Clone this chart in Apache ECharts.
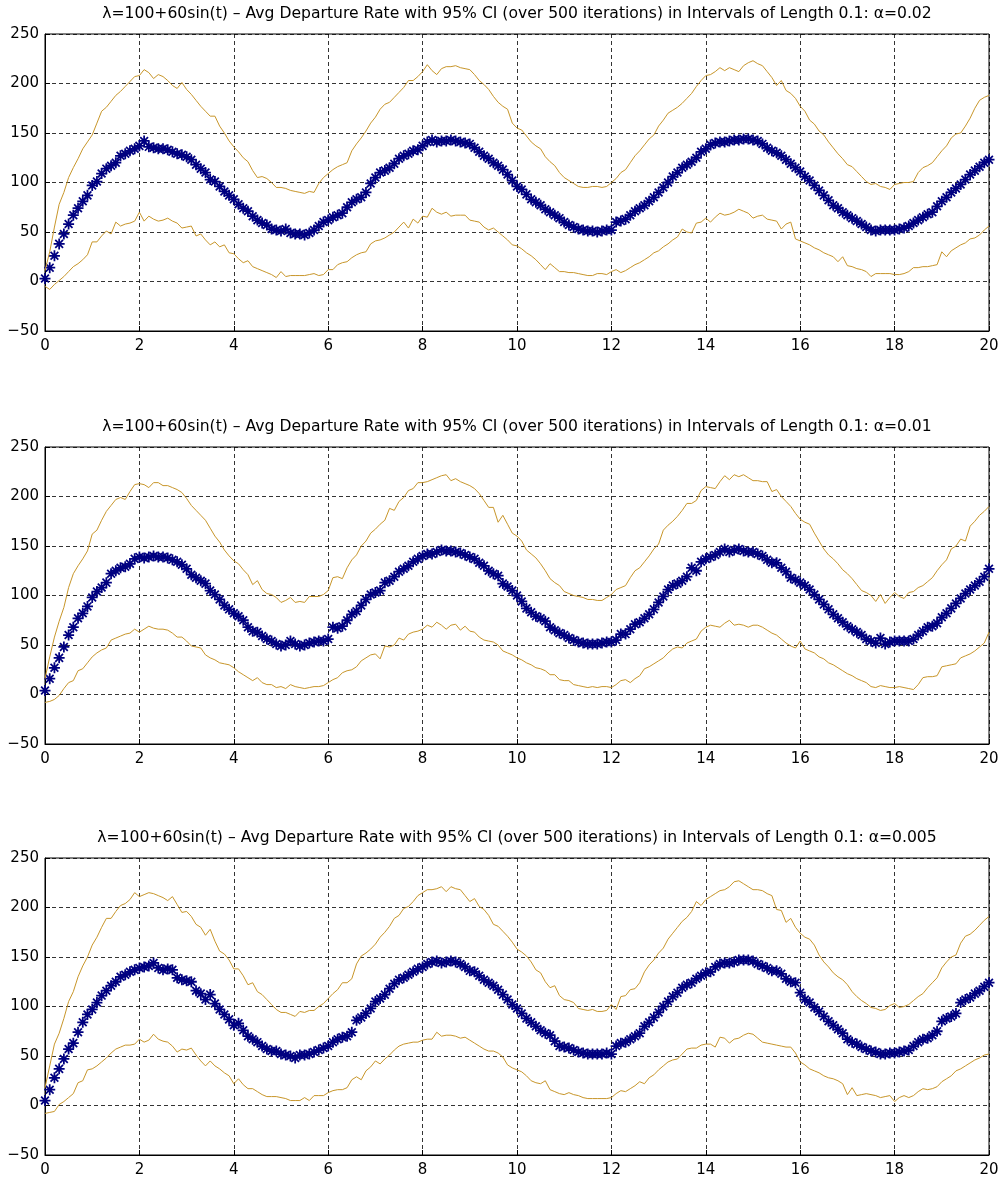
<!DOCTYPE html>
<html>
<head>
<meta charset="utf-8">
<title>Avg Departure Rate with 95% CI</title>
<script src="https://cdn.jsdelivr.net/npm/echarts@6/dist/echarts.min.js"></script>
<style>
html, body { margin: 0; padding: 0; background: #fff; }
#chart { width: 1003px; height: 1180px; }
</style>
</head>
<body>
<div id="chart"></div>
<script>
// samples every 0.1 time units, t = 0 .. 20
var T_STEP = 0.1;
var alphas = ['0.02', '0.01', '0.005'];
var xTicks = { min: 0, max: 20, step: 2 };
var yTicks = { min: -50, max: 250, step: 50 };

// alpha = 0.02
var mean1 = [3,14,26,38,48,58,67,74,81,87, 97,101,109,114,117,120,127,129,132,134, 137,142,136,135,134,134,133,131,129,128,
  126,123,118,114,110,103,101,96,91,87, 83,78,74,71,66,62,59,57,53,52, 51,53,49,48,48,47,49,52,56,60,
  62,65,67,69,75,80,83,85,90,99, 105,110,112,115,119,124,127,129,132,133, 137,141,143,141,142,142,143,142,141,140,
  139,135,131,127,124,120,117,113,108,102, 96,93,88,83,80,77,73,70,67,64, 60,57,55,53,52,51,51,50,51,52,
  52,60,61,63,67,71,74,77,81,85, 90,95,100,106,110,115,118,121,125,131, 134,138,140,141,141,142,143,143,144,144,
  143,142,139,135,132,130,127,123,119,115, 111,106,102,97,92,87,82,77,74,70, 67,64,61,58,55,52,51,52,52,52,
  52,53,54,56,59,62,65,68,70,76, 81,85,90,94,98,103,108,112,116,120, 123];
var upper1 = [11,30,55,78,90,105,115,124,134,141, 148,160,172,176,182,188,192,197,202,207, 208,214,211,205,209,207,203,198,195,201,
  194,189,183,177,172,167,167,157,150,142, 136,131,125,121,112,105,106,104,100,95, 95,94,92,91,90,89,91,90,99,105,
  109,113,116,118,120,132,139,145,152,160, 166,174,179,181,186,191,196,203,203,207, 212,219,213,209,215,217,217,218,216,215,
  214,209,203,199,194,187,181,177,174,160, 155,153,147,141,137,134,126,121,117,110, 105,102,99,96,95,95,96,96,95,96,
  100,104,110,113,120,127,132,138,144,148, 157,163,170,173,176,180,185,190,197,203, 208,209,212,216,213,216,214,212,218,221,
  223,220,218,212,206,198,203,193,190,185, 177,172,163,159,152,148,141,135,129,124, 118,116,111,106,101,98,99,96,95,93,
  98,99,100,100,101,110,115,117,120,126, 132,137,145,149,150,157,165,175,183,186, 188];
var lower1 = [-5,-8,-3,1,5,10,15,18,22,27, 40,40,46,51,48,60,56,58,59,61, 70,61,66,63,61,62,64,61,59,54,
  55,56,46,48,42,37,40,35,37,29, 28,23,19,21,15,13,11,9,7,4, 10,5,6,6,6,6,7,8,6,7,
  12,12,17,19,20,24,27,29,30,38, 41,42,44,47,50,55,60,54,63,59, 66,65,74,70,68,70,66,67,67,67,
  62,61,60,55,52,54,50,46,42,37, 36,33,29,26,22,17,12,18,14,10, 10,9,9,8,7,6,6,8,8,7,
  10,12,9,11,14,17,19,22,25,29, 31,35,38,42,45,53,50,49,59,60, 64,60,65,69,67,68,70,73,71,69,
  64,66,67,63,62,61,53,58,60,43, 41,39,37,34,32,29,27,25,20,25, 16,15,13,12,10,5,8,8,8,8,
  7,7,8,10,14,14,15,15,16,17, 30,25,31,34,37,39,43,44,47,52, 56];

// alpha = 0.01
var mean2 = [4,16,27,37,48,60,68,77,82,89, 98,104,108,113,122,125,128,129,132,137, 139,138,139,140,139,139,138,136,134,131,
  127,121,118,115,112,105,101,96,90,86, 82,79,75,68,64,63,59,56,54,51, 49,50,54,51,49,50,52,53,54,54,
  56,68,67,69,75,81,84,90,96,101, 103,105,113,115,119,124,127,130,134,137, 140,142,142,144,146,145,145,144,143,141,
  139,137,133,130,125,122,120,112,109,105, 100,94,87,83,79,77,74,68,65,62, 60,57,55,53,52,51,51,51,52,53,
  53,55,61,61,66,71,73,77,81,86, 93,99,106,110,112,115,119,128,125,134, 137,139,141,144,147,144,146,147,145,144,
  144,142,140,136,133,133,128,124,118,116, 113,110,106,101,96,91,86,81,77,73, 69,66,63,60,56,54,52,57,51,53,
  54,54,54,54,56,60,64,68,69,72, 78,82,87,92,97,102,106,110,114,119, 127];
var upper2 = [16,38,58,74,88,108,122,130,137,145, 162,166,176,185,191,197,199,197,205,212, 213,212,209,214,214,211,211,209,207,204,
  198,191,186,181,176,168,160,154,146,140, 135,132,126,121,111,115,106,102,101,98, 93,95,98,93,94,93,99,99,99,101,
  105,118,119,117,128,136,141,150,155,163, 167,172,176,188,186,195,199,206,208,214, 214,215,217,219,221,222,216,218,215,213,
  211,208,203,196,189,189,174,181,172,163, 160,155,146,142,138,132,125,117,113,110, 104,102,100,99,98,96,96,95,95,98,
  101,106,108,110,118,125,128,134,140,147, 152,166,171,175,180,186,193,193,196,206, 210,209,208,215,221,217,222,220,222,219,
  216,216,215,215,205,207,200,195,190,183, 177,174,172,163,155,147,141,137,132,126, 122,117,111,105,103,100,94,101,92,98,
  103,99,97,103,104,108,110,114,118,125, 131,136,147,150,157,155,170,175,181,185, 190];
var lower2 = [-8,-7,-5,-1,6,12,14,24,26,32, 38,42,45,47,55,57,59,61,62,66, 63,66,69,67,66,66,65,62,58,58,
  54,49,48,47,40,37,35,32,31,30, 27,23,20,17,14,17,12,10,10,7, 8,6,10,8,7,6,7,8,8,9,
  12,15,17,22,24,25,28,34,37,40, 41,36,49,48,50,57,55,61,63,64, 66,70,68,73,70,66,70,71,65,69,
  64,63,58,55,54,53,50,44,42,40, 37,35,32,30,27,26,24,20,20,15, 14,14,10,9,8,7,8,7,8,8,
  7,10,14,15,12,16,19,26,28,31, 34,37,42,46,48,47,52,54,56,64, 68,70,69,68,72,75,70,71,70,68,
  70,70,68,65,62,60,56,52,49,47, 54,46,44,42,38,36,32,30,27,24, 21,19,16,14,12,8,7,9,8,7,
  7,8,7,6,5,10,17,18,18,19, 28,29,30,31,37,39,41,44,48,52, 63];

// alpha = 0.005
var mean3 = [5,16,28,37,47,57,63,74,84,92, 97,104,111,116,121,125,130,132,135,137, 139,140,141,144,139,137,138,137,129,127,
  126,125,116,113,107,112,103,97,92,87, 81,83,76,70,67,64,60,57,55,55, 52,51,50,48,51,51,52,54,56,58,
  60,64,67,69,70,74,86,89,93,98, 105,108,112,118,123,127,129,132,135,138, 140,143,145,146,144,145,146,145,143,140,
  136,135,131,127,124,121,117,112,107,102, 98,93,88,84,80,76,73,71,65,60, 59,58,56,54,53,52,52,52,52,53,
  52,60,63,64,67,70,73,80,84,89, 94,100,105,110,114,119,122,124,128,131, 134,135,140,143,144,144,145,147,147,147,
  146,143,141,139,136,136,133,128,125,124, 114,107,104,99,95,90,85,81,77,73, 67,64,62,59,57,55,54,52,52,53,
  53,54,55,56,60,64,67,68,71,75, 85,88,90,93,104,107,109,113,116,120, 124];
var upper3 = [18,40,62,73,88,105,115,130,141,150, 162,170,180,189,189,196,202,204,208,215, 211,213,215,214,212,210,207,211,203,195,
  196,191,183,180,172,178,166,156,153,147, 138,138,131,122,124,115,112,107,102,97, 94,94,92,90,95,94,96,96,100,103,
  108,113,117,124,124,128,143,151,154,158, 163,170,175,181,189,192,199,201,206,212, 215,218,218,219,221,216,221,219,218,212,
  206,209,201,198,192,183,181,176,171,165, 158,155,151,145,137,134,125,119,121,111, 107,106,104,98,97,96,97,95,95,96,
  102,97,110,111,117,118,124,135,142,147, 154,159,168,174,180,186,190,196,206,202, 208,211,214,217,218,221,226,227,224,221,
  218,218,217,214,212,198,197,185,189,180, 174,170,168,162,152,145,140,134,130,127, 122,115,110,106,103,99,98,96,97,101,
  103,99,100,102,106,110,113,119,124,129, 139,145,150,152,164,171,173,177,182,187, 191];
var lower3 = [-8,-7,-6,1,4,8,12,23,25,36, 37,40,44,48,53,57,59,61,61,62, 67,64,66,72,67,65,64,60,54,57,
  56,58,51,45,40,45,40,37,33,30, 22,27,21,17,17,14,11,9,9,9, 8,7,5,5,5,8,5,10,10,10,
  13,15,16,16,18,26,29,26,35,39, 45,42,47,51,56,60,62,63,64,64, 66,67,67,74,70,71,71,70,68,69,
  66,63,60,57,55,55,53,49,41,38, 36,34,30,25,23,22,25,16,14,12, 11,13,11,10,8,7,7,7,7,7,
  8,12,15,14,17,20,24,22,28,31, 36,40,44,46,47,52,57,58,58,61, 62,62,59,69,68,63,67,68,71,73,
  72,68,64,63,62,61,60,59,59,53, 44,41,37,35,33,30,28,27,25,22, 11,18,10,11,12,11,10,8,9,10,
  4,8,10,8,10,14,17,16,17,19, 24,27,30,35,37,40,43,46,48,51, 52];

var FONT = 'DejaVu Sans';
var NAVY = '#000080';
var GOLD = '#c8962a';
// 8-spoke asterisk marker (all sub-paths wound the same way so they fill together)
var ASTERISK = 'path://M0 8.4L20 8.4L20 11.6L0 11.6Z' +
  'M8.4 0L11.6 0L11.6 20L8.4 20Z' +
  'M4.06 1.80L18.20 15.94L15.94 18.20L1.80 4.06Z' +
  'M18.20 4.06L4.06 18.20L1.80 15.94L15.94 1.80Z';

var panels = [
  { mean: mean1, upper: upper1, lower: lower1 },
  { mean: mean2, upper: upper2, lower: lower2 },
  { mean: mean3, upper: upper3, lower: lower3 }
];
var gridTops = [34, 447, 858];
var GRID_LEFT = 45, GRID_W = 944, GRID_H = 297;

function toPairs(arr) {
  var out = [];
  for (var i = 0; i < arr.length; i++) {
    out.push([Math.round(i * T_STEP * 10) / 10, arr[i]]);
  }
  return out;
}

function tickText(v) {
  return v < 0 ? '\u2212' + Math.abs(v) : String(v);
}

function titleText(alpha) {
  return '\u03bb=100+60sin(t) \u2013 Avg Departure Rate with 95% CI (over 500 iterations) in Intervals of Length 0.1: \u03b1=' + alpha;
}

var option = {
  animation: false,
  backgroundColor: '#fff',
  title: [], grid: [], xAxis: [], yAxis: [], series: []
};

for (var i = 0; i < panels.length; i++) {
  var p = panels[i];
  option.title.push({
    text: titleText(alphas[i]),
    left: GRID_LEFT + GRID_W / 2,
    top: gridTops[i] - 28,
    padding: 0,
    textAlign: 'center',
    textStyle: { fontFamily: FONT, fontSize: 15.6, fontWeight: 'normal', color: '#000' }
  });
  option.grid.push({
    left: GRID_LEFT, top: gridTops[i], width: GRID_W, height: GRID_H,
    show: true, borderColor: '#000', borderWidth: 1, backgroundColor: '#fff'
  });
  option.xAxis.push({
    gridIndex: i, type: 'value',
    min: xTicks.min, max: xTicks.max, interval: xTicks.step,
    axisLine: { show: true, onZero: false, lineStyle: { color: '#000', width: 1 } },
    axisTick: { show: true, inside: true, length: 5, lineStyle: { color: '#000' } },
    axisLabel: { color: '#000', fontFamily: FONT, fontSize: 15, margin: 8 },
    splitLine: { show: true, lineStyle: { color: '#000', width: 0.8, type: [4, 3] } }
  });
  option.yAxis.push({
    gridIndex: i, type: 'value',
    min: yTicks.min, max: yTicks.max, interval: yTicks.step,
    axisLine: { show: true, onZero: false, lineStyle: { color: '#000', width: 1 } },
    axisTick: { show: true, inside: true, length: 5, lineStyle: { color: '#000' } },
    axisLabel: { color: '#000', fontFamily: FONT, fontSize: 15, margin: 6, formatter: tickText },
    splitLine: { show: true, lineStyle: { color: '#000', width: 0.8, type: [4, 3] } }
  });
  option.series.push({
    type: 'line', xAxisIndex: i, yAxisIndex: i, data: toPairs(p.upper),
    symbol: 'none', silent: true, lineStyle: { color: GOLD, width: 1 }
  });
  option.series.push({
    type: 'line', xAxisIndex: i, yAxisIndex: i, data: toPairs(p.lower),
    symbol: 'none', silent: true, lineStyle: { color: GOLD, width: 1 }
  });
  option.series.push({
    type: 'scatter', xAxisIndex: i, yAxisIndex: i, data: toPairs(p.mean),
    symbol: ASTERISK, symbolSize: 11, silent: true,
    itemStyle: { color: NAVY, opacity: 1 }
  });
}

var chart = echarts.init(document.getElementById('chart'));
chart.setOption(option);
</script>
</body>
</html>
